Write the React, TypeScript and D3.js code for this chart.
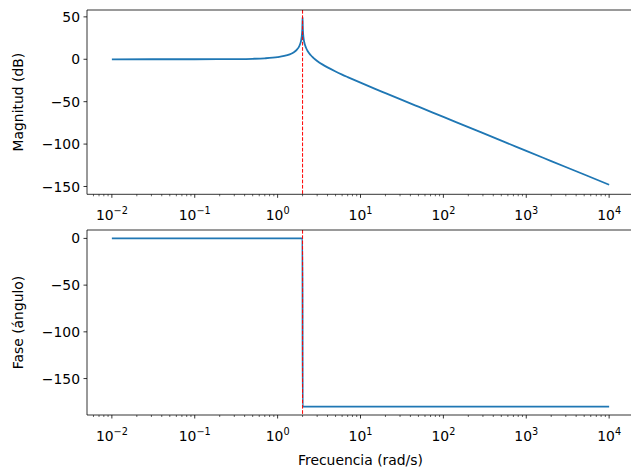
import React from "react";
import * as d3 from "d3";

const magFreq = [0.01, 0.1, 0.2, 0.3, 0.5, 0.7, 1, 1.2, 1.4, 1.5, 1.6, 1.7, 1.8, 1.85, 1.9, 1.93, 1.95, 1.96, 1.98, 1.99, 2.0, 2.01, 2.02, 2.04, 2.05, 2.07, 2.1, 2.15, 2.2, 2.3, 2.5, 2.7, 3, 3.5, 4, 5, 6, 7, 10, 15, 20, 30, 50, 100, 200, 500, 1000, 2000, 5000, 10000];
const magDb = [0, 0.02, 0.09, 0.2, 0.56, 1.14, 2.5, 3.88, 5.85, 7.18, 8.87, 11.14, 14.4, 16.81, 20.2, 23.25, 26.1, 28.05, 34.0, 40.0, 49.5, 40.0, 33.9, 27.87, 25.9, 22.95, 19.8, 16.16, 13.6, 9.83, 5.0, 1.7, -1.94, -6.29, -9.54, -14.4, -18.06, -21.0, -27.6, -34.85, -39.9, -47.0, -55.9, -67.95, -80.0, -95.9, -107.96, -120.0, -135.9, -147.96];

const phaseFreq = [0.01, 1.995, 2.005, 10000];
const phaseDeg = [0, 0, -180, -180];

const resonance = 2;

const xTickExps = [-2, -1, 0, 1, 2, 3, 4];
const magTicks = [50, 0, -50, -100, -150];
const phaseTicks = [0, -50, -100, -150];

const W = 631;
const H = 472;
const LEFT = 87;
const RIGHT = 634;
const FONT = "DejaVu Sans, sans-serif";
const BLUE = "#1f77b4";

const fmt = (v: number) => (v < 0 ? "\u2212" + Math.abs(v) : String(v));

function Panel({
  top, bottom, yDomain, yTicks, freq, vals, ylabel, xlabel,
}: {
  top: number; bottom: number; yDomain: [number, number]; yTicks: number[];
  freq: number[]; vals: number[]; ylabel: string; xlabel?: string;
}) {
  const x = d3.scaleLog().domain([Math.pow(10, -2.3), Math.pow(10, 4.3)]).range([LEFT, RIGHT]);
  const y = d3.scaleLinear().domain(yDomain).range([bottom, top]);
  const pts = freq.map((f, i) => [f, vals[i]] as [number, number]);
  const line = d3.line<[number, number]>().x(d => x(d[0])).y(d => y(d[1])).curve(d3.curveMonotoneX);
  const minor: number[] = [];
  for (let e = -3; e <= 4; e++) {
    for (let m = 2; m <= 9; m++) {
      const v = m * Math.pow(10, e);
      const px = x(v);
      if (px >= LEFT && px <= RIGHT) minor.push(v);
    }
  }
  const mid = (top + bottom) / 2;
  return (
    <g>
      <defs>
        <clipPath id={"clip" + top}>
          <rect x={LEFT} y={top} width={RIGHT - LEFT} height={bottom - top} />
        </clipPath>
      </defs>
      <g clipPath={`url(#clip${top})`}>
        <path d={line(pts) || ""} fill="none" stroke={BLUE} strokeWidth={1.8} strokeLinejoin="round" />
        <line x1={x(resonance)} x2={x(resonance)} y1={top} y2={bottom} stroke="red" strokeWidth={1} strokeDasharray="3.7,1.6" />
      </g>
      <line x1={LEFT} x2={RIGHT} y1={top} y2={top} stroke="black" strokeWidth={0.8} />
      <line x1={LEFT} x2={RIGHT} y1={bottom} y2={bottom} stroke="black" strokeWidth={0.8} />
      <line x1={LEFT} x2={LEFT} y1={top} y2={bottom} stroke="black" strokeWidth={0.8} />
      {minor.map((v, i) => (
        <line key={"m" + i} x1={x(v)} x2={x(v)} y1={bottom} y2={bottom + 2} stroke="black" strokeWidth={0.6} />
      ))}
      {xTickExps.map(e => {
        const px = x(Math.pow(10, e));
        return (
          <g key={"x" + e}>
            <line x1={px} x2={px} y1={bottom} y2={bottom + 3.5} stroke="black" strokeWidth={0.8} />
            <text x={px} y={bottom + 26} fontFamily={FONT} fontSize={13.9} textAnchor="middle" fill="black">
              10<tspan fontSize={9.7} dy={-6}>{e < 0 ? "\u2212" + Math.abs(e) : String(e)}</tspan>
            </text>
          </g>
        );
      })}
      {yTicks.map(v => (
        <g key={"y" + v}>
          <line x1={LEFT - 3.5} x2={LEFT} y1={y(v)} y2={y(v)} stroke="black" strokeWidth={0.8} />
          <text x={LEFT - 7} y={y(v)} dy="0.36em" fontFamily={FONT} fontSize={13.9} textAnchor="end" fill="black">
            {fmt(v)}
          </text>
        </g>
      ))}
      <text transform={`translate(23,${mid}) rotate(-90)`} fontFamily={FONT} fontSize={13.9} textAnchor="middle" fill="black">
        {ylabel}
      </text>
      {xlabel && (
        <text x={(LEFT + RIGHT) / 2} y={465} fontFamily={FONT} fontSize={13.9} textAnchor="middle" fill="black">
          {xlabel}
        </text>
      )}
    </g>
  );
}

export default function App() {
  return (
    <svg width={W} height={H} style={{ position: "absolute", left: 0, top: 0, background: "white" }}>
      <rect width={W} height={H} fill="white" />
      <Panel top={10} bottom={194.3} yDomain={[-159.2, 58.1]} yTicks={magTicks} freq={magFreq} vals={magDb} ylabel="Magnitud (dB)" />
      <Panel top={230} bottom={415} yDomain={[-189, 9]} yTicks={phaseTicks} freq={phaseFreq} vals={phaseDeg} ylabel="Fase (ángulo)" xlabel="Frecuencia (rad/s)" />
    </svg>
  );
}
